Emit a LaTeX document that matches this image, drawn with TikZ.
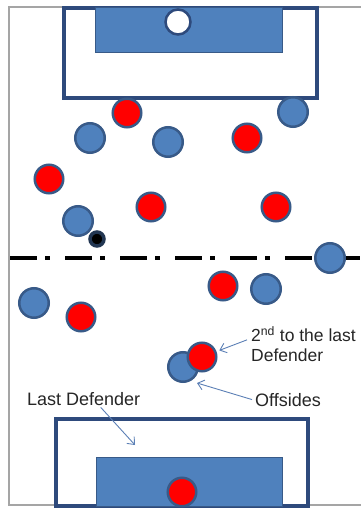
\documentclass[tikz,border=0pt]{standalone}
\usepackage{fontspec}
\setmainfont{Liberation Sans}
\usetikzlibrary{arrows.meta}
\definecolor{fieldgray}{RGB}{165, 165, 165}
\definecolor{boxnavy}{RGB}{46, 74, 124}
\definecolor{playerblue}{RGB}{79, 129, 189}
\definecolor{rimblue}{RGB}{56, 90, 136}
\definecolor{noteblue}{RGB}{92, 128, 182}

\begin{document}
\begin{tikzpicture}[x=1pt, y=-1pt,
  blueman/.style={circle, draw=rimblue, fill=playerblue, line width=2.5pt, minimum size=29.5pt, inner sep=0pt},
  redman/.style={blueman, fill=red, minimum size=28.5pt},
  penbox/.style={draw=boxnavy, line width=3.5pt, fill=white},
  goalbox/.style={draw=rimblue, line width=1pt, fill=playerblue},
  lbl/.style={font=\fontsize{18}{20}\selectfont, text=black!85, inner sep=0pt, align=left},
  note/.style={draw=noteblue, line width=0.9pt, -{Straight Barb[length=6pt, width=10pt]}}
]
  \useasboundingbox (0,0) rectangle (360,510);
  \fill[white] (0,0) rectangle (360,510);

  % pitch outline, open on the right
  \draw[fieldgray, line width=1.5pt] (380,7) -- (9,7) -- (9,505) -- (380,505);

  % top penalty and goal area
  \draw[penbox] (64,8) rectangle (317,98);
  \draw[goalbox] (95,8) rectangle (282,53);
  \node[circle, draw=boxnavy, fill=white, line width=2.5pt, minimum size=25pt, inner sep=0pt] (topkeeper) at (178,22) {};

  % bottom penalty and goal area
  \draw[penbox] (56,419) rectangle (308,506);
  \draw[goalbox] (96,457) rectangle (282,506);
  \node[redman] (lastdef) at (182,492) {};

  % halfway line
  \draw[line width=4pt, dash pattern=on 27pt off 8pt on 5pt off 15pt] (10,258) -- (360,258);

  % players
  \node[redman]  (r1) at (127,113) {};
  \node[blueman] (b1) at (90,138) {};
  \node[blueman] (b2) at (168,142) {};
  \node[redman]  (r2) at (247,138) {};
  \node[blueman] (b3) at (293,112) {};
  \node[redman]  (r3) at (49,179) {};
  \node[blueman] (b4) at (78,221) {};
  \node[redman]  (r4) at (151,207) {};
  \node[redman]  (r5) at (276,207) {};
  \node[blueman] (b5) at (330,258) {};
  \node[redman]  (r6) at (223,286) {};
  \node[blueman] (b6) at (266,289) {};
  \node[blueman] (b7) at (34,303) {};
  \node[redman]  (r7) at (81,317) {};
  \node[blueman] (offside) at (183,367) {};
  \node[redman]  (second) at (202,357) {};

  % ball
  \node[circle, draw=rimblue!60!black, fill=black, line width=3.5pt, minimum size=14pt, inner sep=0pt] (ball) at (97,239) {};

  % labels
  \node[lbl, anchor=north west, font=\fontsize{17.5}{20}\selectfont] (secondlbl) at (251,326) {2\textsuperscript{nd} to the last\\Defender};
  \node[lbl, anchor=base west] (offlbl) at (255,406) {Offsides};
  \node[lbl, anchor=base west] (lastlbl) at (27,405) {Last Defender};
  \coordinate (offtip) at (197,383);
  \coordinate (lasttip) at (135,445);

  \draw[note, shorten >=3pt] ([xshift=-4pt, yshift=4pt]secondlbl.west) -- (second);
  \draw[note] ([xshift=-3pt]offlbl.west) -- (offtip);
  \draw[note] ([xshift=17pt, yshift=-2pt]lastlbl.south) -- (lasttip);
\end{tikzpicture}
\end{document}
